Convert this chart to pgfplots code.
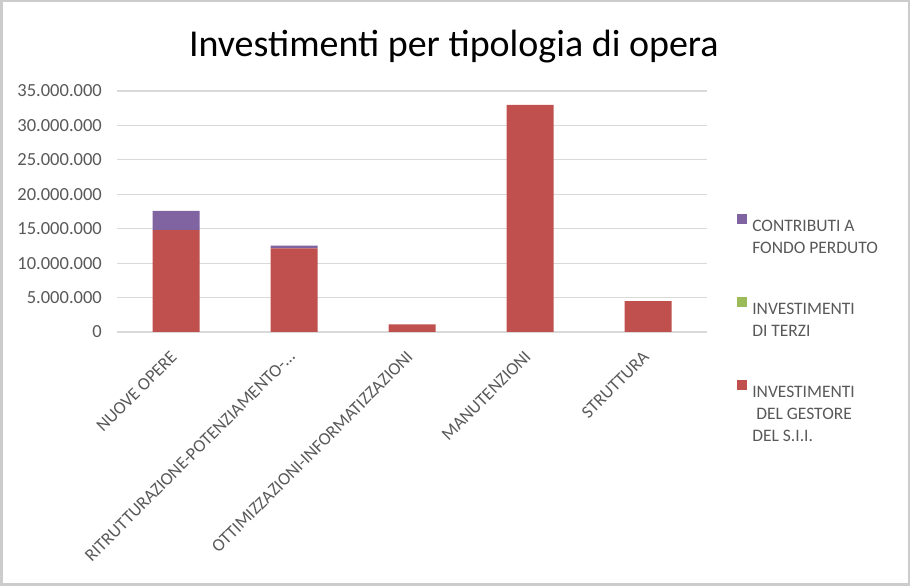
\documentclass[border=0pt]{standalone}
\usepackage{pgfplots}
\pgfplotsset{compat=1.18}
\usepackage{fontspec}
\setmainfont{Carlito}
\definecolor{cred}{HTML}{C0504D}
\definecolor{cgreen}{HTML}{9BBB59}
\definecolor{cpurple}{HTML}{8064A2}
\definecolor{txt}{HTML}{595959}
\definecolor{gridc}{HTML}{D9D9D9}
\pgfplotsset{sq/.style={legend image code/.code={\fill[#1] (0pt,0.5pt) rectangle (10pt,10.5pt);}}}
\begin{document}
\begin{tikzpicture}[x=1pt,y=1pt]
\useasboundingbox (0,0) rectangle (910,586);
\fill[white] (0,0) rectangle (910,586);
\draw[gray!40, line width=2.5pt] (1.25,1.25) rectangle (908.75,584.75);
\begin{axis}[
  at={(117pt,254pt)}, anchor=south west,
  scale only axis, width=590pt, height=241pt,
  xmin=-0.5, xmax=4.5, ymin=0, ymax=35000000,
  ybar stacked, bar width=47pt,
  scaled y ticks=false,
  xtick={0,1,2,3,4},
  xticklabels={NUOVE OPERE, RITRUTTURAZIONE-POTENZIAMENTO-…, OTTIMIZZAZIONI-INFORMATIZZAZIONI, MANUTENZIONI, STRUTTURA},
  ytick={0,5000000,10000000,15000000,20000000,25000000,30000000,35000000},
  yticklabels={0,5.000.000,10.000.000,15.000.000,20.000.000,25.000.000,30.000.000,35.000.000},
  axis line style={draw=none},
  major tick length=0pt,
  ymajorgrids, grid style={gridc, line width=1.2pt},
  tick label style={text=txt},
  yticklabel style={anchor=east, inner sep=0pt, xshift=-15pt, font=\fontsize{18.5}{22}\selectfont},
  xticklabel style={xshift=-2pt, yshift=-22pt, rotate=45, anchor=east, inner sep=0pt, font=\fontsize{17.8}{21}\selectfont},
  title={Investimenti per tipologia di opera},
  title style={at={(0.571,1.158)}, anchor=center, font=\fontsize{38}{45}\selectfont, text=black},
  legend style={at={(1.051,0.49)}, anchor=north west, draw=none, fill=none,
    font=\fontsize{17.5}{22}\selectfont, text=txt, row sep=64pt, inner sep=0pt,
    nodes={inner sep=0pt, text=txt},
    /tikz/every odd column/.style={column sep=5pt}},
  legend cell align=left,
  reverse legend,
]
\addplot[fill=cred, draw=none, sq] coordinates {(0,14800000) (1,12150000) (2,1100000) (3,33000000) (4,4500000)};
\addlegendentry{\begin{tabular}[t]{@{}l@{}}INVESTIMENTI\\\hspace{4pt}DEL GESTORE\\DEL S.I.I.\end{tabular}}
\addplot[fill=cgreen, draw=none, sq] coordinates {(0,0) (1,0) (2,0) (3,0) (4,0)};
\addlegendentry{\begin{tabular}[t]{@{}l@{}}INVESTIMENTI\\DI TERZI\end{tabular}}
\addplot[fill=cpurple, draw=none, sq] coordinates {(0,2800000) (1,380000) (2,0) (3,0) (4,0)};
\addlegendentry{\begin{tabular}[t]{@{}l@{}}CONTRIBUTI A\\FONDO PERDUTO\end{tabular}}
\end{axis}
\end{tikzpicture}
\end{document}
